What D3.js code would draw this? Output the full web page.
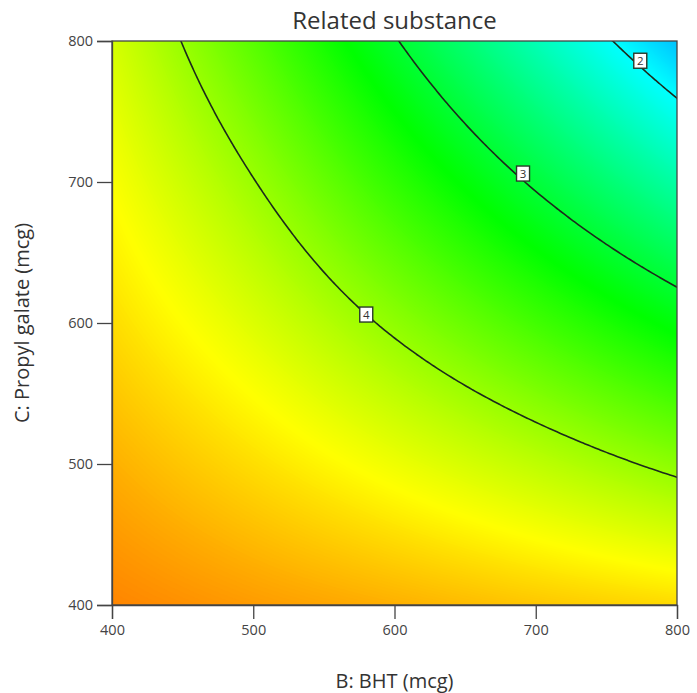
<!DOCTYPE html>
<html><head><meta charset="utf-8">
<script src="https://cdn.jsdelivr.net/npm/d3@7"></script>
<style>
body{margin:0;background:#fff}
text{font-family:"Open Sans","Noto Sans",sans-serif}
</style>
</head><body>
<svg id="chart" width="697" height="693"></svg>
<script>
// ---- data ----
const bhtTicks = [400, 500, 600, 700, 800];          // B: BHT (mcg)
const pgTicks  = [400, 500, 600, 700, 800];          // C: Propyl galate (mcg)
// estimated response (Related substance) at grid nodes; rows = C (400..800), cols = B (400..800)
const relatedSubstance = [
  [5.10, 4.99, 4.89, 4.78, 4.68],
  [4.89, 4.66, 4.42, 4.18, 3.93],
  [4.67, 4.33, 3.95, 3.57, 3.19],
  [4.48, 4.01, 3.48, 2.96, 2.44],
  [4.30, 3.68, 3.02, 2.36, 1.70]
];
const contourLevels = [2, 3, 4];
const labelLevels = ["2", "3", "4"];
const labelB = [774, 691, 580];
const labelC = [786, 706, 606];
const chartTitle = "Related substance";
const xTitle = "B: BHT (mcg)";
const yTitle = "C: Propyl galate (mcg)";

// ---- layout ----
const svg = d3.select("#chart");
const L = 112, R = 677, T = 41, B = 605;
const x = d3.scaleLinear().domain([400, 800]).range([L, R]);
const y = d3.scaleLinear().domain([400, 800]).range([B, T]);

// smooth (Catmull-Rom) sampling between the read grid nodes
const z = relatedSubstance, n = z.length;
function node(i, j) {
  if (i < 0) return 2 * node(0, j) - node(1, j);
  if (i > n - 1) return 2 * node(n - 1, j) - node(n - 2, j);
  if (j < 0) return 2 * node(i, 0) - node(i, 1);
  if (j > n - 1) return 2 * node(i, n - 1) - node(i, n - 2);
  return z[j][i];
}
function cr(p0, p1, p2, p3, t) {
  return 0.5 * (2 * p1 + (-p0 + p2) * t + (2 * p0 - 5 * p1 + 4 * p2 - p3) * t * t + (-p0 + 3 * p1 - 3 * p2 + p3) * t * t * t);
}
function sample(bv, cv) {
  const fi = (bv - 400) / 100, fj = (cv - 400) / 100;
  const i = Math.min(n - 2, Math.floor(fi)), j = Math.min(n - 2, Math.floor(fj));
  const u = fi - i, v = fj - j;
  const rows = [-1, 0, 1, 2].map(dj => cr(node(i - 1, j + dj), node(i, j + dj), node(i + 1, j + dj), node(i + 2, j + dj), u));
  return cr(rows[0], rows[1], rows[2], rows[3], v);
}
const N = 161, step = 400 / (N - 1);
const values = new Array(N * N);
for (let j = 0; j < N; j++) for (let i = 0; i < N; i++) values[j * N + i] = sample(400 + i * step, 400 + j * step);

const hue = d3.scaleLinear().domain([0.75, 5.75]).range([240, 0]).clamp(true);
const color = v => d3.hsl(hue(v), 1, 0.5).formatHex();

const proj = d3.geoTransform({
  point(px, py) { this.stream.point(x(400 + (px - 0.5) * step), y(400 + (py - 0.5) * step)); }
});
const path = d3.geoPath(proj);

svg.append("clipPath").attr("id", "plotclip").append("rect")
  .attr("x", L).attr("y", T).attr("width", R - L).attr("height", B - T);

const plot = svg.append("g").attr("clip-path", "url(#plotclip)");
const [vmin, vmax] = d3.extent(values);
plot.append("rect").attr("x", L).attr("y", T).attr("width", R - L).attr("height", B - T).attr("fill", color(vmin));
const bandT = d3.range(Math.floor(vmin * 100) / 100, vmax, 0.01);
plot.append("g").selectAll("path")
  .data(d3.contours().size([N, N]).thresholds(bandT)(values))
  .join("path").attr("d", path).attr("fill", d => color(d.value + 0.005)).attr("stroke", "none");

plot.append("g").selectAll("path")
  .data(d3.contours().size([N, N]).thresholds(contourLevels)(values))
  .join("path").attr("d", path).attr("fill", "none").attr("stroke", "#1c2a1c").attr("stroke-width", 1.6);

// contour labels
const lab = svg.append("g").selectAll("g").data(labelLevels).join("g")
  .attr("transform", (d, k) => `translate(${x(labelB[k])},${y(labelC[k])})`);
lab.append("rect").attr("x", -6.5).attr("y", -7.5).attr("width", 13).attr("height", 15)
  .attr("fill", "#fff").attr("stroke", "#2a3a2a").attr("stroke-width", 1.4);
lab.append("text").attr("text-anchor", "middle").attr("dy", "0.36em")
  .attr("font-size", 11.5).attr("fill", "#333").text(d => d);

// frame
svg.append("rect").attr("x", L).attr("y", T).attr("width", R - L).attr("height", B - T)
  .attr("fill", "none").attr("stroke", "#444").attr("stroke-width", 1.3);

// axes
const ax = svg.append("g").attr("transform", `translate(0,${B})`)
  .call(d3.axisBottom(x).tickValues(bhtTicks).tickSize(14).tickPadding(6));
const ay = svg.append("g").attr("transform", `translate(${L},0)`)
  .call(d3.axisLeft(y).tickValues(pgTicks).tickSize(15).tickPadding(4));
[ax, ay].forEach(a => {
  a.select(".domain").attr("stroke", "#444").attr("stroke-width", 1.3);
  a.selectAll(".tick line").attr("stroke", "#444").attr("stroke-width", 1.3);
  a.selectAll(".tick text").attr("font-size", 14.5).attr("fill", "#444")
    .attr("font-family", '"Open Sans","Noto Sans",sans-serif');
});

svg.append("text").attr("x", (L + R) / 2).attr("y", 29).attr("text-anchor", "middle")
  .attr("font-size", 24).attr("fill", "#333").text(chartTitle);
svg.append("text").attr("x", (L + R) / 2).attr("y", 688).attr("text-anchor", "middle")
  .attr("font-size", 20).attr("fill", "#333").text(xTitle);
svg.append("text").attr("transform", `translate(29,${(T + B) / 2}) rotate(-90)`).attr("text-anchor", "middle")
  .attr("font-size", 20).attr("fill", "#333").text(yTitle);
</script>
</body></html>
